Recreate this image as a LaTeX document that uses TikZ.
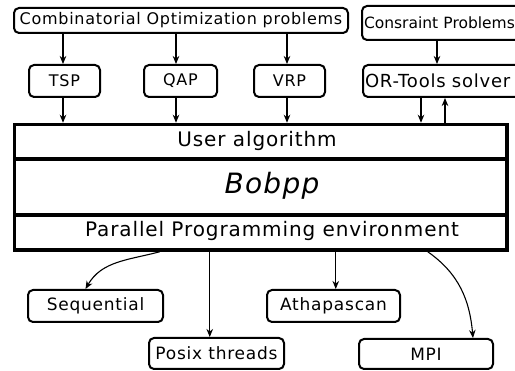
\documentclass[tikz,border=0pt]{standalone}
\usepackage{fontspec}
\setmainfont{DejaVu Sans}
\newfontfamily\lsfont[LetterSpace=4.5]{DejaVu Sans}
\usetikzlibrary{arrows.meta}
\begin{document}
\begin{tikzpicture}[x=1pt,y=-1pt,
  rbox/.style={draw,line width=2pt,rounded corners=5pt,inner sep=0pt,
    font=\lsfont\fontsize{16}{19}\selectfont},
  layer/.style={draw,line width=3.5pt,inner sep=0pt,minimum width=492.5pt},
  txt/.style={inner sep=0pt,font=\lsfont\fontsize{20}{24}\selectfont},
  arr/.style={line width=1.1pt,-{Stealth[length=8pt,width=6.5pt,inset=2.5pt]}}]
\clip (0,0) rectangle (515,371);
% top boxes
\node[rbox,minimum width=334pt,minimum height=25pt] (comb) at (181,20.5) {Combinatorial Optimization problems};
\node[rbox,minimum width=170pt,minimum height=34pt,anchor=west,text width=166pt,inner xsep=2pt,
  font=\fontsize{15.5}{19}\selectfont] (cons) at (361,23) {Consraint Problems};
\node[rbox,minimum width=71pt,minimum height=32pt] (tsp) at (64.5,81) {TSP};
\node[rbox,minimum width=73pt,minimum height=32pt] (qap) at (180.5,81) {QAP};
\node[rbox,minimum width=71pt,minimum height=32pt] (vrp) at (289.5,81) {VRP};
\node[rbox,minimum width=170pt,minimum height=32pt,anchor=west,text width=166pt,inner xsep=2pt,
  font=\lsfont\fontsize{18}{21}\selectfont] (ort) at (362,81) {OR-Tools solver};
% layers
\node[layer,minimum height=34.5pt] (ua) at (260.75,141.75) {};
\node[layer,minimum height=56pt] (bob) at (260.75,187) {};
\node[layer,minimum height=35pt] (par) at (260.75,232.5) {};
\node[txt] (uat) at (257,141) {User algorithm};
\node[inner sep=0pt,font=\lsfont\itshape\fontsize{28}{32}\selectfont] (bobt) at (272,186) {Bobpp};
\node[txt] (part) at (272,231) {Parallel Programming environment};
% bottom boxes
\node[rbox,minimum width=135pt,minimum height=32pt,font=\lsfont\fontsize{17}{20}\selectfont] (seq) at (95.5,306) {Sequential};
\node[rbox,minimum width=135pt,minimum height=31pt,font=\lsfont\fontsize{17}{20}\selectfont] (pos) at (216.5,353.5) {Posix threads};
\node[rbox,minimum width=133pt,minimum height=32pt,font=\lsfont\fontsize{17}{20}\selectfont] (ath) at (333.5,306) {Athapascan};
\node[rbox,minimum width=134pt,minimum height=30pt,font=\lsfont\fontsize{17}{20}\selectfont] (mpi) at (426,354) {MPI};
% arrows top
\draw[arr] ([xshift=-1.5pt]tsp.north |- comb.south) -- ([xshift=-1.5pt]tsp.north);
\draw[arr] ([xshift=-4.5pt]qap.north |- comb.south) -- ([xshift=-4.5pt]qap.north);
\draw[arr] ([xshift=-2.5pt]vrp.north |- comb.south) -- ([xshift=-2.5pt]vrp.north);
\draw[arr] ([xshift=76pt]cons.south west) -- ([xshift=75pt]ort.north west);
\draw[arr] ([xshift=-1.5pt]tsp.south) -- ([xshift=-1.5pt]tsp.south |- ua.north);
\draw[arr] ([xshift=-4.5pt]qap.south) -- ([xshift=-4.5pt]qap.south |- ua.north);
\draw[arr] ([xshift=-2.5pt]vrp.south) -- ([xshift=-2.5pt]vrp.south |- ua.north);
\draw[arr] ([xshift=59pt]ort.south west) -- ([xshift=59pt]ort.south west |- ua.north);
\draw[arr] ([xshift=83pt]ort.south west |- ua.north) -- ([xshift=83pt]ort.south west);
% arrows bottom
\draw[arr] ([xshift=-101pt]par.south) to[out=195,in=60] ([xshift=-10pt]seq.north);
\draw[arr] ([xshift=-51pt]par.south) -- ([xshift=-51pt]par.south |- pos.north);
\draw[arr] ([xshift=75pt]par.south) -- ([xshift=75pt]par.south |- ath.north);
\draw[arr] ([xshift=167pt]par.south) to[out=-35,in=95] ([xshift=47pt]mpi.north);
\end{tikzpicture}
\end{document}
